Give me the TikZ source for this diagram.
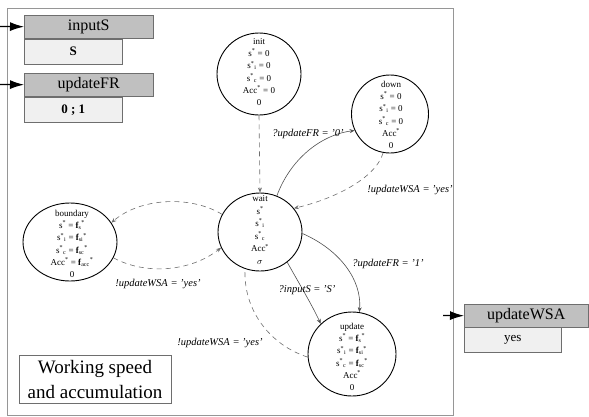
\documentclass[tikz,border=0pt]{standalone}
\usepackage{fontspec}
\setmainfont{Liberation Serif}
\usetikzlibrary{arrows.meta,shapes.geometric}
\newcommand\supsub[2]{\textsuperscript{#1}\textsubscript{#2}}
\newcommand\fsub[1]{\textbf{f}\textsubscript{#1}\textsuperscript{*}}
\definecolor{hdr}{RGB}{192,192,192}
\definecolor{valfill}{RGB}{240,240,240}
\definecolor{boxline}{RGB}{110,110,110}
\definecolor{framec}{RGB}{150,150,150}
\definecolor{solc}{RGB}{80,80,80}
\definecolor{dshc}{RGB}{110,110,110}
\begin{document}
\begin{tikzpicture}[x=1pt,y=-1pt,
  hdrbox/.style={draw=boxline, fill=hdr, anchor=north west, inner sep=0pt,
    minimum width=129pt, minimum height=23pt, font=\fontsize{16}{18}\selectfont},
  valbox/.style={draw=boxline, fill=valfill, anchor=north west, inner sep=0pt,
    minimum width=98pt, minimum height=25pt, font=\fontsize{13}{15}\selectfont},
  state/.style={draw=black, ellipse, line width=0.9pt, inner sep=0pt},
  stxt/.style={align=center, font=\fontsize{9}{12.2}\selectfont, inner sep=0pt},
  lbl/.style={font=\fontsize{10.5}{12}\selectfont\itshape, inner sep=1pt},
  sol/.style={draw=solc, line width=0.6pt, -{Stealth[length=5pt,width=4pt]}},
  dsh/.style={draw=dshc, line width=0.6pt, dash pattern=on 5pt off 4pt},
  dsharr/.style={dsh, -{Stealth[length=5pt,width=4pt]}},
  inarr/.style={line width=1.2pt, -{Latex[length=14pt,width=9pt]}}
]
\useasboundingbox (0,0) rectangle (589,416);
% outer frame
\draw[framec, line width=0.8pt] (7,8) rectangle (453,415);

% input / output boxes
\node[hdrbox] (inputS) at (24,15) {inputS};
\node[valbox] (inputSv) at (24,39) {\textbf{S}};
\node[hdrbox] (updateFR) at (24,73) {updateFR};
\node[valbox] (updateFRv) at (24,97) {\textbf{0 ; 1}};
\node[hdrbox, minimum width=124pt] (updateWSA) at (464,304) {updateWSA};
\node[valbox, minimum width=97pt] (updateWSAv) at (464,327) {yes};

\coordinate (inS) at (0,26.5);
\coordinate (inFR) at (0,84.5);
\coordinate (outWSA) at (443,315.5);
\draw[inarr] (inS) -- (inputS.west);
\draw[inarr] (inFR) -- (updateFR.west);
\draw[inarr] (outWSA) -- (updateWSA.west);

% states
\node[state, minimum width=84pt, minimum height=82pt] (init) at (259,74) {};
\node[stxt] (initt) at (259,72) {init\\s\textsuperscript{*} = 0\\s\supsub{*}{i} = 0\\s\supsub{*}{c} = 0\\Acc\textsuperscript{*} = 0\\0};

\node[state, minimum width=77pt, minimum height=78pt] (down) at (390,114) {};
\node[stxt] (downt) at (391,115) {down\\s\textsuperscript{*} = 0\\s\supsub{*}{i} = 0\\s\supsub{*}{c} = 0\\Acc\textsuperscript{*}\\0};

\node[state, minimum width=94pt, minimum height=78pt] (boundary) at (70,242) {};
\node[stxt] (boundaryt) at (72,244) {boundary\\s\textsuperscript{*} = \fsub{s}\\s\supsub{*}{i} = \fsub{si}\\s\supsub{*}{c} = \fsub{sc}\\Acc\textsuperscript{*} = \fsub{acc}\\0};

\node[state, minimum width=84pt, minimum height=78pt] (wait) at (260,232) {};
\node[stxt, font=\fontsize{9}{12.6}\selectfont] (waitt) at (260,230) {wait\\s\textsuperscript{*}\\s\supsub{*}{i}\\s\supsub{*}{c}\\Acc\textsuperscript{*}\\$\sigma$};

\node[state, minimum width=88pt, minimum height=84pt] (update) at (352,354) {};
\node[stxt] (updatet) at (352,357) {update\\s\textsuperscript{*} = \fsub{s}\\s\supsub{*}{i} = \fsub{si}\\s\supsub{*}{c} = \fsub{sc}\\Acc\textsuperscript{*}\\0};

% caption box
\node[draw=boxline, line width=0.7pt, minimum width=152pt, minimum height=48pt,
  align=center, font=\fontsize{19}{25}\selectfont, inner sep=0pt] (title) at (95,379)
  {Working speed\\and accumulation};

% transitions
\draw[dsharr] (init.south) -- (wait.north);
\draw[sol] (wait.65) .. controls (290,160) and (320,135) .. (down.205);
\draw[dsharr] (down.260) .. controls (375,180) and (330,200) .. (wait.35);
\draw[dsharr] (wait.155) .. controls (190,195) and (140,198) .. (boundary.25);
\draw[dsharr] (boundary.-20) .. controls (145,275) and (190,272) .. (wait.202);
\draw[sol] (wait.-48) .. controls (300,285) and (312,305) .. (update.136);
\draw[sol] (wait.-2) .. controls (340,250) and (362,280) .. (update.80);
\draw[dsh] (update.184) .. controls (270,345) and (243,310) .. (wait.248);

% labels
\node[lbl] (l1) at (308,134) {?updateFR = '0'};
\node[lbl] (l2) at (410,190) {!updateWSA = 'yes'};
\node[lbl] (l3) at (158,284) {!updateWSA = 'yes'};
\node[lbl] (l4) at (307,290) {?inputS = 'S'};
\node[lbl] (l5) at (388,264) {?updateFR = '1'};
\node[lbl] (l6) at (220,343) {!updateWSA = 'yes'};
\end{tikzpicture}
\end{document}
